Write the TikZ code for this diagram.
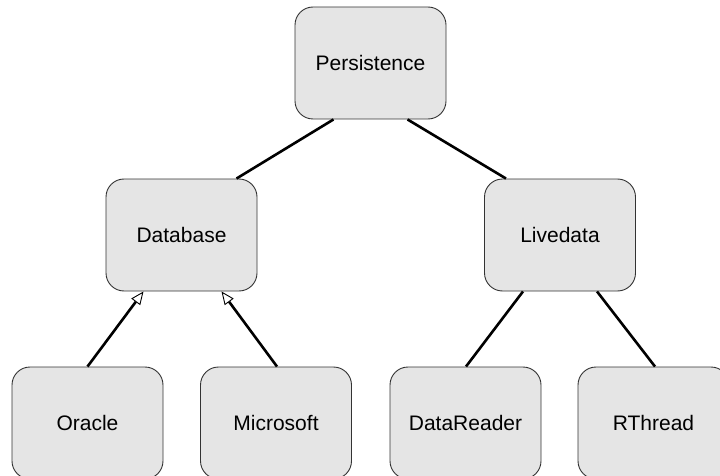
\documentclass[tikz,border=0pt]{standalone}
\usepackage{fontspec}
\setmainfont{Liberation Sans}
\usetikzlibrary{arrows.meta}
\begin{document}
\begin{tikzpicture}[x=1pt,y=-1pt,
  box/.style={draw=black!80, line width=0.9pt, fill=black!10, rounded corners=18pt,
    minimum width=151pt, minimum height=112pt, inner sep=0pt,
    font=\fontsize{21}{25}\selectfont},
  conn/.style={draw=black, line width=2.6pt},
  inh/.style={conn, -{Triangle[length=13pt,width=11pt,fill=white,line width=0.9pt]}}]
\useasboundingbox (0,0) rectangle (720,476);
\node[box] (P) at (370.5,63) {Persistence};
\node[box] (D) at (181.5,235) {Database};
\node[box] (L) at (560,235) {Livedata};
\node[box] (O) at (87.5,423) {Oracle};
\node[box] (M) at (276,423) {Microsoft};
\node[box] (R) at (465.5,423) {DataReader};
\node[box] (T) at (653.5,423) {RThread};
\draw[conn] ([xshift=-37pt]P.south) -- ([xshift=55pt]D.north);
\draw[conn] ([xshift=37pt]P.south) -- ([xshift=-54pt]L.north);
\draw[conn] ([xshift=-37pt]L.south) -- ([xshift=0.5pt]R.north);
\draw[conn] ([xshift=37pt]L.south) -- ([xshift=1.5pt]T.north);
\draw[inh] ([xshift=0pt]O.north) -- ([xshift=-38pt]D.south);
\draw[inh] ([xshift=1pt]M.north) -- ([xshift=40pt]D.south);
\end{tikzpicture}
\end{document}
